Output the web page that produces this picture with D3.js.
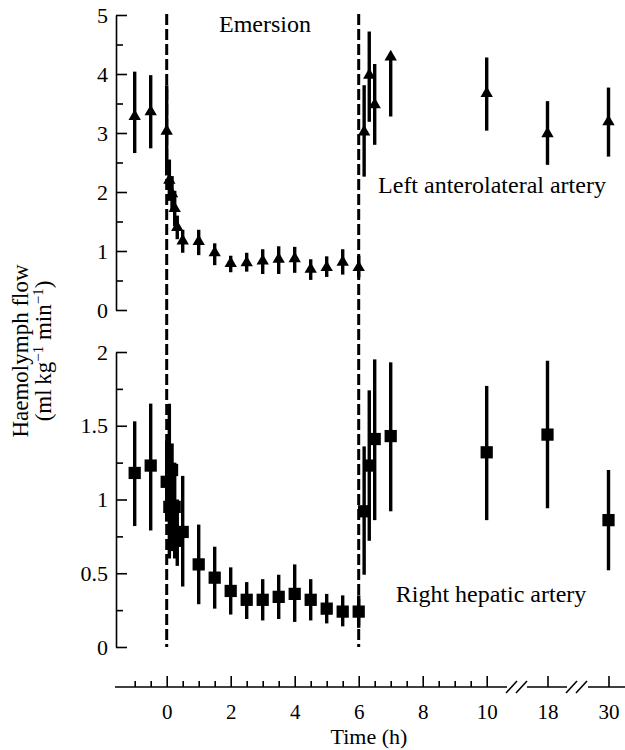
<!DOCTYPE html>
<html lang="en">
<head>
    <meta charset="UTF-8">
    <title>Haemolymph flow</title>
    <script src="https://d3js.org/d3.v7.min.js"></script>
    <style>
        body { margin: 0; background: #fff; }
        text { font-family: "Liberation Serif", "Times New Roman", serif; fill: #000; }
    </style>
</head>
<body>
    <script>
        // sampling times (h) - emersion at 0, re-immersion at 6
        var hours = [-1, -0.5, 0, 0.083, 0.167, 0.25, 0.33, 0.5, 1, 1.5, 2, 2.5, 3, 3.5, 4, 4.5, 5, 5.5, 6,
                     6.17, 6.33, 6.5, 7, 10, 18, 30];

        // left anterolateral artery (triangles): mean and error bar ends
        var triMean = [3.28, 3.36, 3.03, 2.2, 1.97, 1.72, 1.4, 1.17, 1.16, 0.97, 0.79, 0.8, 0.83, 0.86, 0.87, 0.69, 0.72, 0.81, 0.72,
                       3.02, 3.98, 3.48, 4.29, 3.67, 2.99, 3.19];
        var triLow  = [2.66, 2.74, 2.28, 1.85, 1.67, 1.42, 1.2, 0.97, 0.93, 0.76, 0.64, 0.65, 0.61, 0.61, 0.63, 0.51, 0.56, 0.6, 0.55,
                       2.26, 3.19, 2.8, 3.28, 3.04, 2.46, 2.6];
        var triHigh = [4.04, 3.98, 3.81, 2.55, 2.27, 2.02, 1.6, 1.36, 1.36, 1.13, 0.92, 0.97, 1.03, 1.08, 1.07, 0.86, 0.91, 1.03, 0.92,
                       3.81, 4.72, 4.17, 4.29, 4.28, 3.54, 3.77];

        // right hepatic artery (squares)
        var sqMean = [1.18, 1.23, 1.12, 0.95, 1.2, 0.95, 0.72, 0.78, 0.56, 0.47, 0.38, 0.32, 0.32, 0.34, 0.36, 0.32, 0.26, 0.24, 0.24,
                      0.92, 1.23, 1.41, 1.43, 1.32, 1.44, 0.86];
        var sqLow  = [0.82, 0.79, 0.85, 0.6, 0.65, 0.6, 0.55, 0.41, 0.29, 0.26, 0.22, 0.19, 0.18, 0.19, 0.17, 0.18, 0.16, 0.14, 0.13,
                      0.49, 0.72, 0.86, 0.92, 0.86, 0.94, 0.52];
        var sqHigh = [1.53, 1.65, 1.4, 1.65, 1.38, 1.25, 1.0, 1.16, 0.83, 0.68, 0.54, 0.44, 0.46, 0.49, 0.56, 0.46, 0.36, 0.35, 0.35,
                      1.36, 1.74, 1.95, 1.93, 1.77, 1.94, 1.2];

        var xMajor = [0, 2, 4, 6, 8, 10, 18, 30];
        var topTicks = [0, 1, 2, 3, 4, 5];
        var botTicks = [0, 0.5, 1, 1.5, 2];
        var phaseLines = [0, 6];

        var w = 625, h = 750;
        var axisX = 116;

        var svg = d3.select('body').append('svg')
                    .attr('width', w)
                    .attr('height', h);

        // broken time axis: linear to 10 h, then jumps to 18 and 30
        var xScale = d3.scaleLinear()
                       .domain([0, 10, 18, 30])
                       .range([166.7, 486.7, 547.5, 608.5]);

        var yTop = d3.scaleLinear().domain([0, 5]).range([310, 15]);
        var yBot = d3.scaleLinear().domain([0, 2]).range([647, 352]);

        function yAxis(scale, major, step) {
            var minor = d3.range(scale.domain()[0], scale.domain()[1] + 1e-9, step)
                          .filter(function(v) { return major.indexOf(+v.toFixed(3)) < 0; });
            var g = svg.append('g').attr('transform', 'translate(' + axisX + ',0)');
            g.call(d3.axisLeft(scale)
                     .tickValues(major)
                     .tickSizeInner(-11)
                     .tickSizeOuter(0)
                     .tickPadding(8)
                     .tickFormat(d3.format('')));
            var gm = svg.append('g').attr('transform', 'translate(' + axisX + ',0)');
            gm.call(d3.axisLeft(scale).tickValues(minor).tickSize(-7).tickFormat(''));
            gm.select('.domain').remove();
            [g, gm].forEach(function(s) {
                s.selectAll('line').attr('stroke-width', 1.6);
                s.select('.domain').attr('stroke-width', 1.6);
                s.selectAll('text').attr('font-size', 22).attr('font-family', 'Liberation Serif');
            });
        }
        yAxis(yTop, topTicks, 0.5);
        yAxis(yBot, botTicks, 0.25);

        // x axis, ticks point up
        var axisY = 687;
        var xMinor = d3.range(-1, 10, 0.5).filter(function(v) { return v % 2 !== 0; });
        var gx = svg.append('g').attr('transform', 'translate(0,' + axisY + ')');
        gx.call(d3.axisBottom(xScale).tickValues(xMajor).tickSize(-11).tickPadding(17));
        gx.select('.domain').remove();
        var gxm = svg.append('g').attr('transform', 'translate(0,' + axisY + ')');
        gxm.call(d3.axisBottom(xScale).tickValues(xMinor).tickSize(-6).tickFormat(''));
        gxm.select('.domain').remove();
        [gx, gxm].forEach(function(s) {
            s.selectAll('line').attr('stroke-width', 1.6);
            s.selectAll('text').attr('font-size', 21).attr('font-family', 'Liberation Serif');
        });

        // axis baseline in pieces with // marks at the breaks
        var pieces = [[115, 507], [527, 567], [588, 625]];
        svg.selectAll('.xline').data(pieces).enter().append('line')
           .attr('x1', function(d) { return d[0]; })
           .attr('x2', function(d) { return d[1]; })
           .attr('y1', axisY).attr('y2', axisY)
           .attr('stroke', '#000').attr('stroke-width', 1.6);
        var slashes = [506, 516, 566, 576];
        svg.selectAll('.slash').data(slashes).enter().append('line')
           .attr('x1', function(d) { return d; })
           .attr('y1', axisY + 6)
           .attr('x2', function(d) { return d + 11; })
           .attr('y2', axisY - 6)
           .attr('stroke', '#000').attr('stroke-width', 1.6);

        // emersion / re-immersion markers
        svg.selectAll('.phase').data(phaseLines).enter().append('line')
           .attr('x1', function(d) { return xScale(d); })
           .attr('x2', function(d) { return xScale(d); })
           .attr('y1', 14).attr('y2', 647)
           .attr('stroke', '#000')
           .attr('stroke-width', 3)
           .attr('stroke-dasharray', '11,4');

        function series(mean, low, high, scale, symbol, size) {
            var rows = hours.map(function(t, i) {
                return { t: t, m: mean[i], lo: low[i], hi: high[i] };
            });
            svg.append('g').selectAll('line').data(rows).enter().append('line')
               .attr('x1', function(d) { return xScale(d.t); })
               .attr('x2', function(d) { return xScale(d.t); })
               .attr('y1', function(d) { return scale(d.lo); })
               .attr('y2', function(d) { return scale(d.hi); })
               .attr('stroke', '#000')
               .attr('stroke-width', 3.4);
            svg.append('g').selectAll('path').data(rows).enter().append('path')
               .attr('d', d3.symbol(symbol).size(size))
               .attr('transform', function(d) {
                   return 'translate(' + xScale(d.t) + ',' + scale(d.m) + ')';
               })
               .attr('fill', '#000');
        }
        series(triMean, triLow, triHigh, yTop, d3.symbolTriangle, 66);
        series(sqMean, sqLow, sqHigh, yBot, d3.symbolSquare, 150);

        // labels
        svg.append('text').attr('x', 265).attr('y', 32)
           .attr('text-anchor', 'middle').attr('font-size', 24).text('Emersion');
        svg.append('text').attr('x', 492).attr('y', 193)
           .attr('text-anchor', 'middle').attr('font-size', 24).text('Left anterolateral artery');
        svg.append('text').attr('x', 491).attr('y', 602)
           .attr('text-anchor', 'middle').attr('font-size', 24).text('Right hepatic artery');
        svg.append('text').attr('x', 369).attr('y', 744)
           .attr('text-anchor', 'middle').attr('font-size', 22).text('Time (h)');

        var yl = svg.append('g').attr('transform', 'translate(0,351) rotate(-90)');
        yl.append('text').attr('x', 0).attr('y', 28)
          .attr('text-anchor', 'middle').attr('font-size', 23).text('Haemolymph flow');
        var l2 = yl.append('text').attr('x', 0).attr('y', 51)
          .attr('text-anchor', 'middle').attr('font-size', 23);
        l2.append('tspan').text('(ml\u2009kg');
        l2.append('tspan').attr('dy', -8).attr('font-size', 15).text('\u22121');
        l2.append('tspan').attr('dy', 8).text(' min');
        l2.append('tspan').attr('dy', -8).attr('font-size', 15).text('\u22121');
        l2.append('tspan').attr('dy', 8).text(')');
    </script>
</body>
</html>
